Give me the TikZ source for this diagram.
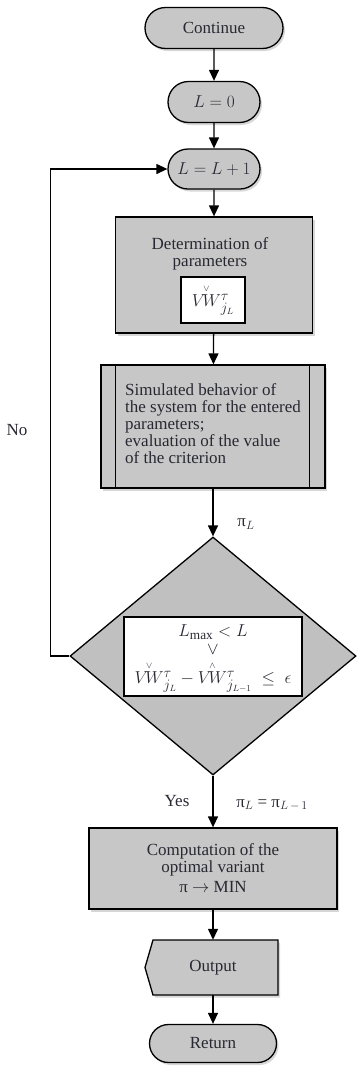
\documentclass[tikz,border=0pt]{standalone}
\usepackage{amsmath}
\usepackage{fontspec}
\setmainfont{Liberation Serif}
\usetikzlibrary{arrows.meta,shapes.geometric,shapes.misc,shadows}
\definecolor{boxgray}{RGB}{199,199,199}
\definecolor{diagray}{RGB}{192,192,192}
\definecolor{ink}{RGB}{40,40,50}
\newcommand{\vwcheck}{\overset{\scriptscriptstyle\vee}{V\!W}}
\newcommand{\vwhat}{\overset{\scriptscriptstyle\wedge}{V\!W}}
\begin{document}
\begin{tikzpicture}[x=1pt,y=-1pt,
  font=\fontsize{17}{17}\selectfont, text=ink,
  sh/.style={drop shadow={shadow xshift=2pt,shadow yshift=-2.5pt,fill=black!35,opacity=0.45}},
  box/.style={draw=black, line width=1.3pt, fill=boxgray, sh, inner sep=0pt},
  term/.style={box, rounded rectangle},
  whitebox/.style={draw=black, line width=1.3pt, fill=white, inner sep=0pt},
  arr/.style={draw=black, line width=1.3pt, -{Triangle[length=11pt,width=10pt]}},
  lbl/.style={inner sep=0pt},
  bigmath/.style={font=\fontsize{19}{19}\selectfont}
]
\path[use as bounding box] (0,0) rectangle (359,1066);

% terminators
\node[term, minimum width=138pt, minimum height=41pt] (cont) at (214,28) {Continue};
\node[term, minimum width=92pt, minimum height=41pt] (l0) at (214,102) {$L = 0$};
\node[term, minimum width=92pt, minimum height=40pt] (l1) at (214,169) {$L = L + 1$};

% determination
\node[box, minimum width=197pt, minimum height=116pt] (det) at (214,275) {};
\node[lbl, align=center] (dettxt) at (210,254) {Determination of\\parameters};
\node[whitebox, bigmath, minimum width=64pt, minimum height=46pt] (vw) at (213,300) {$\vwcheck{}^{\tau}_{j_L}$};

% simulation (predefined process)
\node[box, minimum width=224pt, minimum height=123pt] (sim) at (213,426.5) {};
\draw[line width=1.3pt] ([xshift=15pt]sim.north west) -- ([xshift=15pt]sim.south west);
\draw[line width=1.3pt] ([xshift=-16pt]sim.north east) -- ([xshift=-16pt]sim.south east);
\node[lbl, align=left, anchor=west] (simtxt) at (125,424) {Simulated behavior of\\the system for the entered\\parameters;\\evaluation of the value\\of the criterion};

% decision
\node[draw=black, diamond, fill=diagray, line width=1.3pt, minimum width=286pt, minimum height=238pt, inner sep=0pt] (dec) at (213,656) {};
\node[whitebox, minimum width=178pt, minimum height=79pt] (cond) at (213,656.5) {};
\node[lbl, bigmath] (c1) at (213,632) {$L_{\max} < L$};
\node[lbl] (c2) at (213,650) {$\vee$};
\node[lbl, bigmath] (c3) at (213,677) {$\vwcheck{}^{\tau}_{j_L} - \vwhat{}^{\tau}_{j_{L-1}} \;\le\; \epsilon$};

% computation
\node[box, minimum width=248pt, minimum height=81pt, align=center] (comp) at (213,868.5)
  {Computation of the\\optimal variant\\[3pt]π $\to$ MIN};

% output
\fill[black!35, opacity=0.45, xshift=2pt, yshift=-2.5pt] (153,940) -- (278,940) -- (278,995) -- (153,995) -- (145,967.5) -- cycle;
\draw[line width=1.3pt, fill=boxgray] (153,940) -- (278,940) -- (278,995) -- (153,995) -- (145,967.5) -- cycle;
\node[lbl, minimum width=125pt, minimum height=55pt] (out) at (213,967.5) {Output};

% return
\node[term, minimum width=127pt, minimum height=38pt] (ret) at (213,1043.5) {Return};

% connectors
\draw[arr] (cont) -- (l0);
\draw[arr] (l0) -- (l1);
\draw[arr] (l1) -- (det);
\draw[arr] (det) -- (sim);
\draw[arr] (sim.south -| dec.north) -- (dec.north);
\draw[arr] (dec.south) -- (comp.north);
\draw[arr] (comp.south -| out.north) -- (out.north);
\draw[arr] (out.south) -- (ret.north);
\draw[arr] (dec.west) -- ++(-19,0) |- (l1.west);

% labels
\node[lbl] (piL) at (246,524) {π$_L$};
\node[lbl] (yes) at (177,801) {Yes};
\node[lbl] (piLL) at (272,805) {π$_L$ = π$_{L\,-\,1}$};
\node[lbl] (no) at (17,430) {No};
\end{tikzpicture}
\end{document}
